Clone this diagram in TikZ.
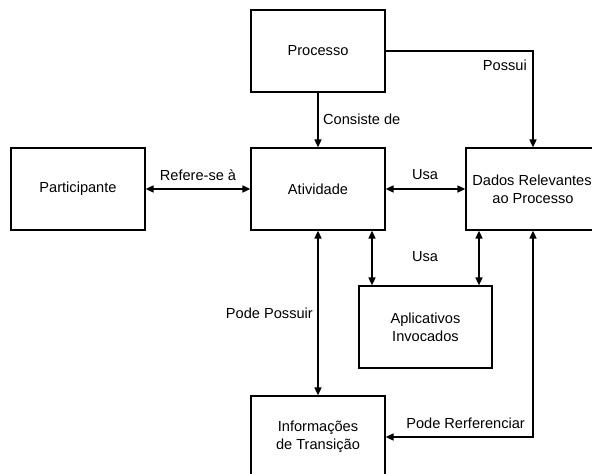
\documentclass[tikz,border=0pt]{standalone}
\usepackage{fontspec}
\setmainfont{Liberation Sans}
\usetikzlibrary{arrows.meta,calc}
\begin{document}
\begin{tikzpicture}[x=1pt,y=-1pt,
  font=\fontsize{14.6}{18}\selectfont,
  box/.style={draw,line width=1.2pt,minimum width=134pt,minimum height=82pt,align=center,inner sep=0pt},
  conn/.style={line width=1.6pt,-{Triangle[length=8pt,width=7pt]}},
  dconn/.style={line width=1.6pt,{Triangle[length=8pt,width=7pt]}-{Triangle[length=8pt,width=7pt]}},
  lbl/.style={inner sep=0pt}]
\useasboundingbox (0,0) rectangle (592,474);
\clip (0,0) rectangle (592,474);
\node[box] (proc) at (318,51) {Processo};
\node[box] (ativ) at (318,189) {Atividade};
\node[box] (part) at (78,189) {Participante};
\node[box] (dados) at (533,189) {\hspace*{-2pt}Dados Relevantes\\ao Processo};
\node[box,minimum width=133pt] (apl) at (425.5,327) {Aplicativos\\Invocados};
\node[box] (info) at (318,437) {Informações\\de Transição};
\draw[conn] (proc) -- (ativ);
\draw[conn] (proc.east) -| (dados.north);
\draw[dconn] (part) -- (ativ);
\draw[dconn] (ativ) -- (dados);
\draw[dconn] ([xshift=54pt]ativ.south) -- ([xshift=54pt]ativ.south |- apl.north);
\draw[dconn] ([xshift=-54pt]dados.south) -- ([xshift=-54pt]dados.south |- apl.north);
\draw[dconn] (ativ) -- (info);
\draw[dconn] (dados.south) |- (info.east);
\node[lbl,anchor=west] (l1) at (323,119) {Consiste de};
\node[lbl,anchor=east] (l2) at (527,65) {Possui};
\node[lbl] (l3) at (198,175) {Refere-se à};
\node[lbl] (l4) at (425,175) {Usa};
\node[lbl] (l5) at (425,257) {Usa};
\node[lbl,anchor=east] (l6) at (313,313) {Pode Possuir};
\node[lbl,anchor=east] (l7) at (525,423) {Pode Rerferenciar};
\end{tikzpicture}
\end{document}
